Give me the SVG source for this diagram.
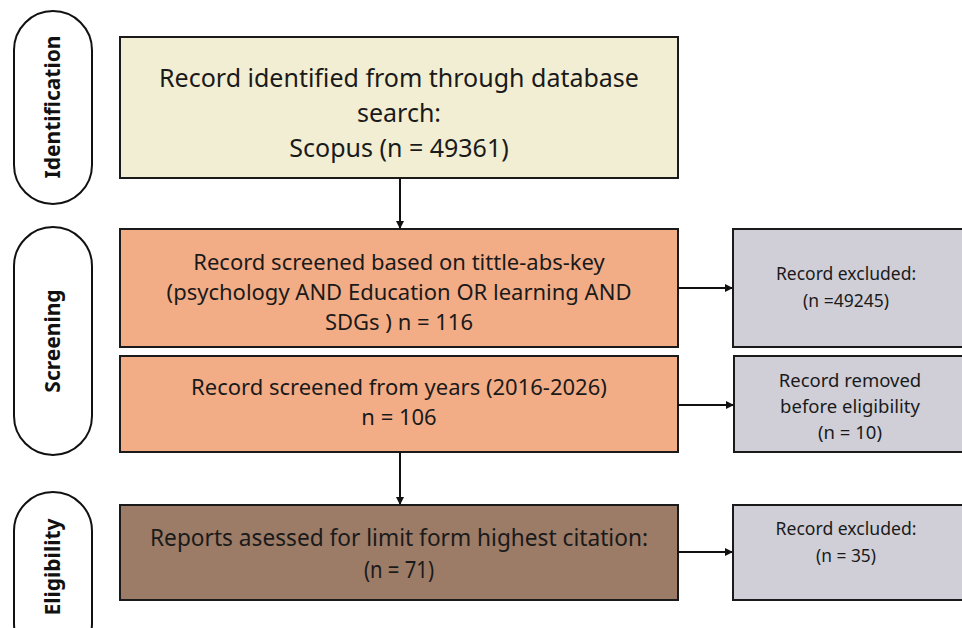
<svg xmlns="http://www.w3.org/2000/svg" width="962" height="628" viewBox="0 0 962 628">
<defs>
<style>
.pill{fill:#fff;stroke:#111;stroke-width:2}
.box{stroke:#1a1a1a;stroke-width:2}
.t{font-family:"Noto Sans","Open Sans",sans-serif;fill:#1a1a1a;text-anchor:middle}
.pt{font-family:"Noto Sans","Open Sans",sans-serif;font-weight:bold;font-size:21px;fill:#111;text-anchor:middle}
.c{stroke:#111;stroke-width:2;fill:none;marker-end:url(#ah)}
</style>
<marker id="ah" markerWidth="8" markerHeight="8" refX="7" refY="4" orient="auto" markerUnits="userSpaceOnUse">
<path d="M0,0 L8,4 L0,8 Z" fill="#111"/>
</marker>
</defs>
<rect width="962" height="628" fill="#fff"/>
<g id="pill-identification">
<rect class="pill" x="14" y="11" width="78" height="193" rx="39"/>
<text class="pt" transform="translate(60,107) rotate(-90)">Identification</text>
</g>
<g id="pill-screening">
<rect class="pill" x="14" y="227" width="78" height="228" rx="39"/>
<text class="pt" transform="translate(60,341) rotate(-90)">Screening</text>
</g>
<g id="pill-eligibility">
<rect class="pill" x="14" y="492" width="78" height="170" rx="39"/>
<text class="pt" transform="translate(60,567) rotate(-90)">Eligibility</text>
</g>
<g id="identified">
<rect class="box" x="120" y="37" width="558" height="141" fill="#F2EED3"/>
<text class="t" font-size="25" x="399" y="87">Record identified from through database</text>
<text class="t" font-size="25" x="399" y="122">search:</text>
<text class="t" font-size="25" x="399" y="157">Scopus (n = 49361)</text>
</g>
<g id="screened1">
<rect class="box" x="120" y="229" width="558" height="118" fill="#F2AD87"/>
<text class="t" font-size="22" x="399" y="270">Record screened based on tittle-abs-key</text>
<text class="t" font-size="22" x="399" y="300">(psychology AND Education OR learning AND</text>
<text class="t" font-size="22" x="399" y="330">SDGs ) n = 116</text>
</g>
<g id="screened2">
<rect class="box" x="120" y="356" width="558" height="96" fill="#F2AD87"/>
<text class="t" font-size="22" x="399" y="395">Record screened from years (2016-2026)</text>
<text class="t" font-size="22" x="399" y="425">n = 106</text>
</g>
<g id="assessed">
<rect class="box" x="120" y="505" width="558" height="95" fill="#9C7B67"/>
<text class="t" font-size="23" x="399" y="546" textLength="498" lengthAdjust="spacingAndGlyphs">Reports asessed for limit form highest citation:</text>
<text class="t" font-size="23" x="399" y="578" textLength="70" lengthAdjust="spacingAndGlyphs">(n = 71)</text>
</g>
<g id="excluded1">
<rect class="box" x="733" y="229" width="240" height="118" fill="#D0CFD8"/>
<text class="t" font-size="17.5" x="846" y="280">Record excluded:</text>
<text class="t" font-size="17.5" x="846" y="307">(n =49245)</text>
</g>
<g id="removed">
<rect class="box" x="734" y="356" width="240" height="96" fill="#D0CFD8"/>
<text class="t" font-size="18.5" x="850" y="387">Record removed</text>
<text class="t" font-size="18.5" x="850" y="413">before eligibility</text>
<text class="t" font-size="18.5" x="850" y="439">(n = 10)</text>
</g>
<g id="excluded2">
<rect class="box" x="733" y="505" width="240" height="95" fill="#D0CFD8"/>
<text class="t" font-size="18" x="846" y="535" textLength="141" lengthAdjust="spacingAndGlyphs">Record excluded:</text>
<text class="t" font-size="18" x="846" y="562" textLength="60" lengthAdjust="spacingAndGlyphs">(n = 35)</text>
</g>
<g id="connectors">
<line class="c" x1="400" y1="178" x2="400" y2="228"/>
<line class="c" x1="400" y1="452" x2="400" y2="504"/>
<line class="c" x1="678" y1="288" x2="732" y2="288"/>
<line class="c" x1="678" y1="405" x2="733" y2="405"/>
<line class="c" x1="678" y1="552" x2="732" y2="552"/>
</g>
</svg>
